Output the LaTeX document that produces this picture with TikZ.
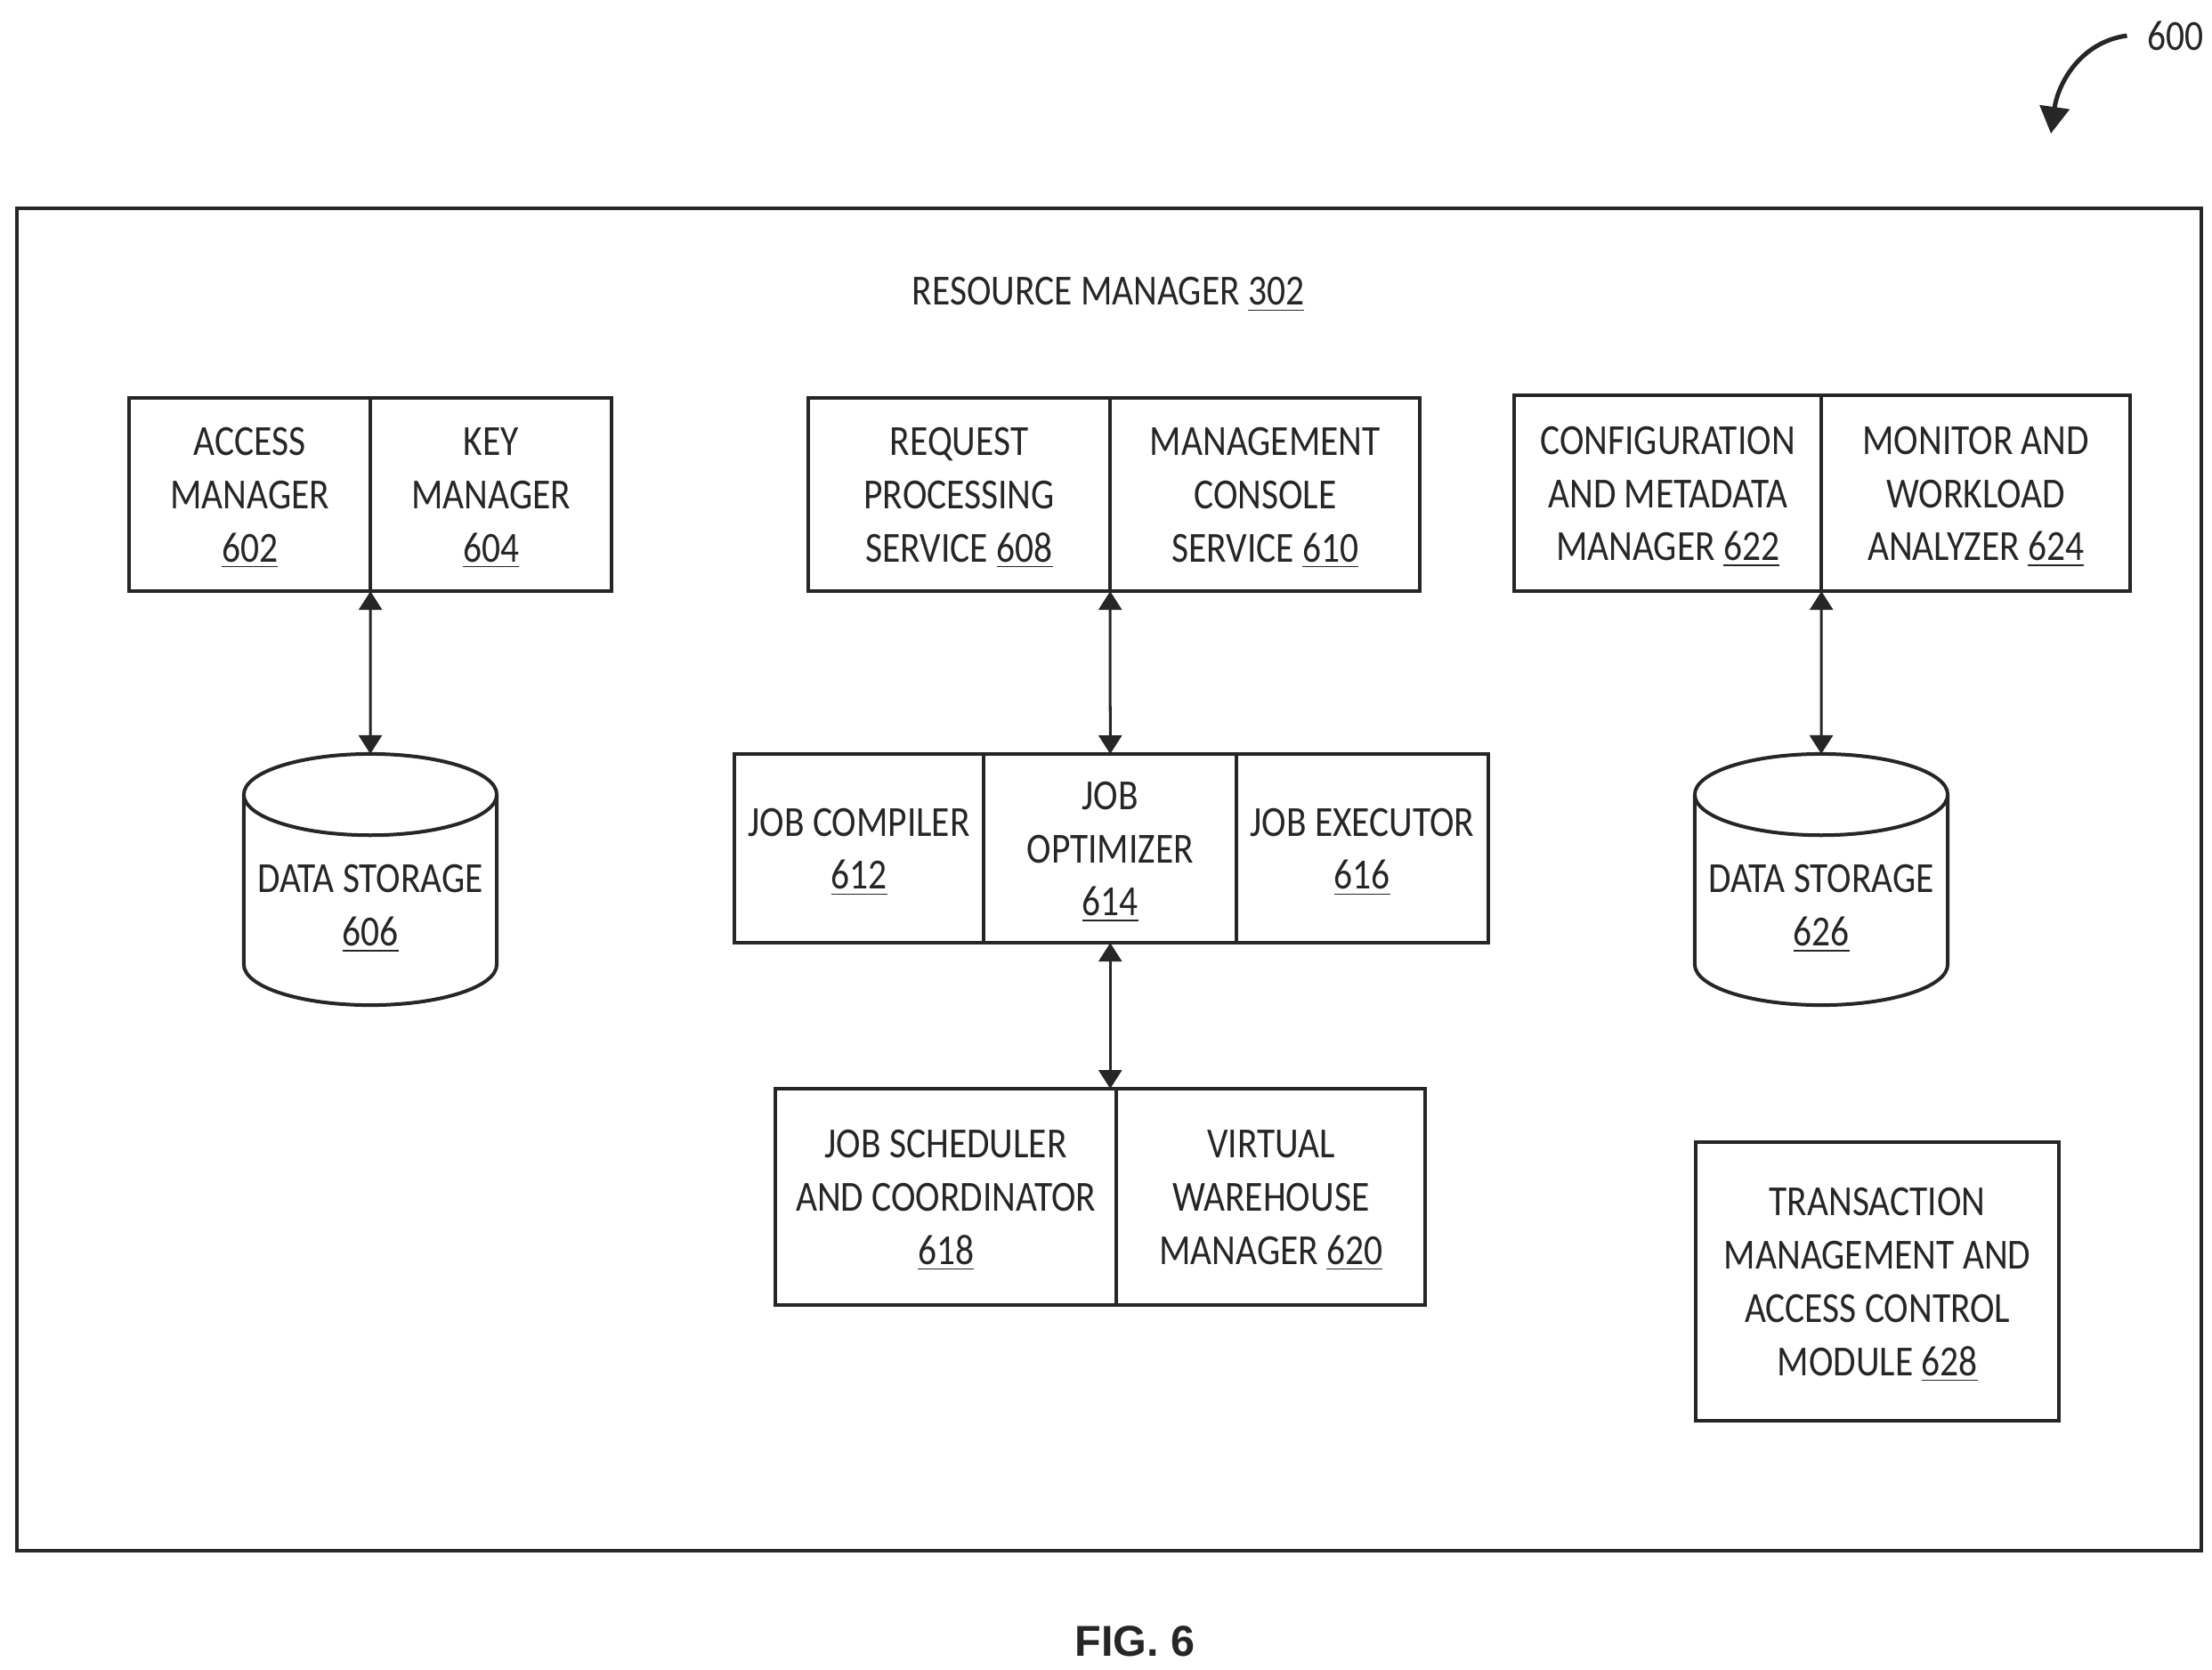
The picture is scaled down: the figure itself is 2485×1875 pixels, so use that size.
\documentclass[tikz,border=0pt]{standalone}
\usepackage{fontspec}
\setmainfont[FakeStretch=0.86]{Carlito}
\newfontfamily\figfont{Liberation Sans}
\usetikzlibrary{positioning,arrows.meta,shapes.geometric}
\newcommand{\cellpad}{\rule{0pt}{11.2pt}}
\newcommand{\storepad}{\rule{0pt}{14pt}}
\begin{document}
\begin{tikzpicture}[x=0.01cm,y=-0.01cm,>={Triangle[length=0.21cm,width=0.26cm]},node distance=0pt,line width=0.04cm,color=black!85,
    cell/.style={rectangle,draw,outer sep=0pt,inner sep=0pt,align=center,font=\fontsize{13.7}{17}\selectfont},
    store/.style={cylinder,shape border rotate=90,draw,aspect=0.36,minimum width=2.84cm,minimum height=2.82cm,anchor=shape center,outer sep=0pt,inner sep=0pt,align=center,font=\fontsize{13.7}{17}\selectfont},
    link/.style={<->,line width=0.03cm}]

    \useasboundingbox (0,0) rectangle (2485,1875);

    \node[cell, anchor=north west, minimum width=24.53cm, minimum height=15.07cm] (rm) at (19,234) {};
    \node[font=\fontsize{13.7}{17}\selectfont] (rmlabel) at (1245,331) {RESOURCE MANAGER \underline{302}};

    \node[cell, anchor=north west, minimum width=2.71cm, minimum height=2.17cm] (access) at (145,447) {\cellpad ACCESS\\MANAGER\\\underline{602}};
    \node[cell, minimum width=2.71cm, minimum height=2.17cm] (key) [right=of access] {\cellpad KEY\\MANAGER\\\underline{604}};
    \node[store] (data606) at (416,988) {\storepad DATA STORAGE\\\underline{606}};

    \node[cell, anchor=north west, minimum width=3.39cm, minimum height=2.17cm] (request) at (908,447) {\cellpad REQUEST\\PROCESSING\\SERVICE \underline{608}};
    \node[cell, minimum width=3.48cm, minimum height=2.17cm] (console) [right=of request] {\cellpad MANAGEMENT\\CONSOLE\\SERVICE \underline{610}};

    \node[cell, anchor=north west, minimum width=3.45cm, minimum height=2.20cm] (config) at (1701,444) {\cellpad CONFIGURATION\\AND METADATA\\MANAGER \underline{622}};
    \node[cell, minimum width=3.47cm, minimum height=2.20cm] (monitor) [right=of config] {\cellpad MONITOR AND\\WORKLOAD\\ANALYZER \underline{624}};
    \node[store] (data626) at (2046,988) {\storepad DATA STORAGE\\\underline{626}};

    \node[cell, anchor=north west, minimum width=2.80cm, minimum height=2.12cm] (compiler) at (825,847) {\cellpad JOB COMPILER\\\underline{612}};
    \node[cell, minimum width=2.84cm, minimum height=2.12cm] (optimizer) [right=of compiler] {\cellpad JOB\\OPTIMIZER\\\underline{614}};
    \node[cell, minimum width=2.82cm, minimum height=2.12cm] (executor) [right=of optimizer] {\cellpad JOB EXECUTOR\\\underline{616}};

    \node[cell, anchor=north west, minimum width=3.83cm, minimum height=2.43cm] (scheduler) at (871,1223) {\cellpad JOB SCHEDULER\\AND COORDINATOR\\\underline{618}};
    \node[cell, minimum width=3.47cm, minimum height=2.43cm] (warehouse) [right=of scheduler] {\cellpad VIRTUAL\\WAREHOUSE\\MANAGER \underline{620}};

    \node[cell, anchor=north west, minimum width=4.08cm, minimum height=3.13cm] (txn) at (1905,1283) {\cellpad TRANSACTION\\MANAGEMENT AND\\ACCESS CONTROL\\MODULE \underline{628}};

    \node[font=\figfont\bfseries\fontsize{13.8}{16}\selectfont] (figlabel) at (1275,1844) {FIG. 6};

    \node[font=\fontsize{13.7}{17}\selectfont, inner sep=2pt, outer sep=0.16cm] (ref600) at (2444,40) {600};
    \coordinate (tip600) at (2304,150);

    \draw[link] (access.south east) to (data606.north);
    \draw[link] (request.south east) to (optimizer.north);
    \draw[link] (config.south east) to (data626.north);
    \draw[link] (optimizer.south) to (optimizer.south |- scheduler.north);
    \draw[->,>={Triangle[length=0.3cm,width=0.33cm]},line width=0.05cm] (ref600.west) to[out=188,in=82] (tip600);
\end{tikzpicture}
\end{document}
